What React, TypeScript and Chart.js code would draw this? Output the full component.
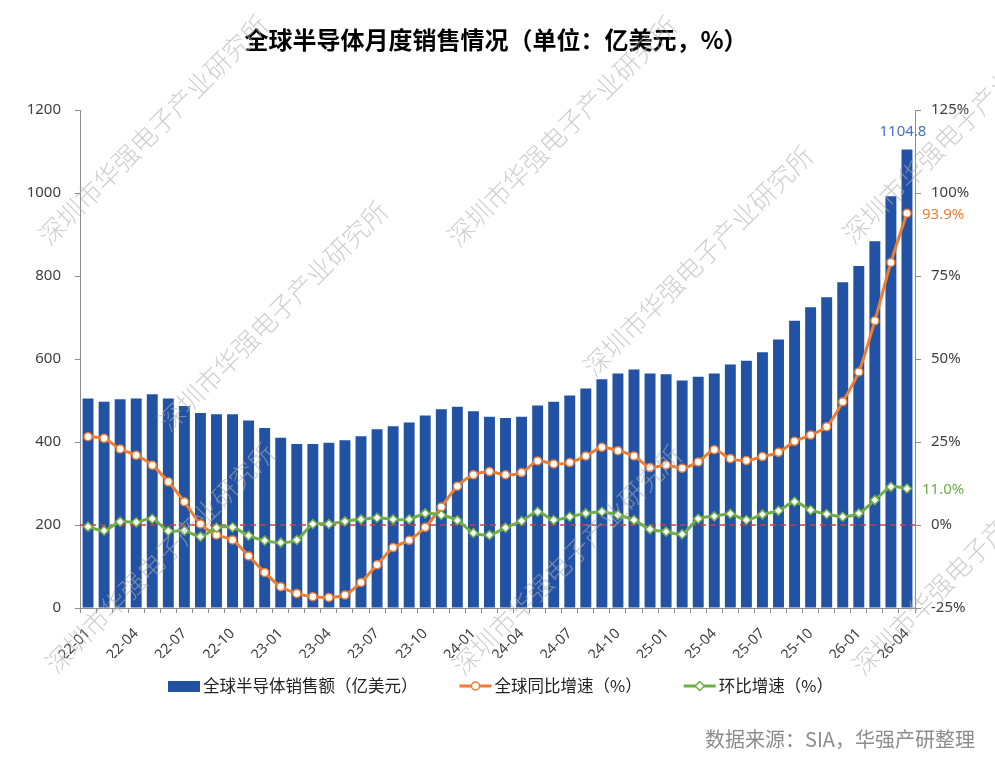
import React, { useEffect, useRef } from 'react';
import { Chart, registerables } from 'chart.js';

Chart.register(...registerables);

const categories = [
  '22-01', '22-02', '22-03', '22-04', '22-05', '22-06', '22-07', '22-08', '22-09', '22-10', '22-11', '22-12',
  '23-01', '23-02', '23-03', '23-04', '23-05', '23-06', '23-07', '23-08', '23-09', '23-10', '23-11', '23-12',
  '24-01', '24-02', '24-03', '24-04', '24-05', '24-06', '24-07', '24-08', '24-09', '24-10', '24-11', '24-12',
  '25-01', '25-02', '25-03', '25-04', '25-05', '25-06', '25-07', '25-08', '25-09', '25-10', '25-11', '25-12',
  '26-01', '26-02', '26-03', '26-04',
];

const salesValues = [
  505, 497, 503, 505, 515, 505, 487, 470, 467, 467, 452, 434,
  410, 395, 395, 398, 404, 414, 431, 438, 447, 464, 479, 485,
  474, 461, 458, 461, 488, 497, 512, 529, 551, 565, 575, 565,
  563, 548, 557, 565, 587, 596, 616, 647, 692, 725, 749, 785,
  824, 884, 992, 1104.8,
];

const yoyGrowth = [
  26.6, 26.1, 22.9, 21.0, 18.0, 13.0, 7.0, 0.3, -3.0, -4.5, -9.3, -14.3,
  -18.6, -20.6, -21.6, -21.8, -21.1, -17.3, -12.0, -6.8, -4.6, -0.7, 5.4, 11.7,
  15.1, 16.1, 15.1, 15.8, 19.3, 18.4, 18.8, 20.8, 23.4, 22.4, 20.8, 17.3,
  18.1, 17.1, 19.0, 22.7, 20.0, 19.4, 20.6, 21.9, 25.2, 27.1, 29.6, 37.1,
  46.1, 61.5, 79.1, 93.9,
];

const momGrowth = [
  -0.5, -1.7, 1.0, 0.8, 1.9, -1.8, -1.7, -3.5, -0.8, -0.7, -3.2, -4.7,
  -5.3, -4.5, 0.3, 0.3, 1.1, 1.7, 2.2, 1.7, 1.7, 3.5, 3.0, 1.4,
  -2.4, -3.0, -0.8, 1.2, 4.0, 1.5, 2.5, 3.5, 4.0, 3.0, 1.5, -1.3,
  -2.0, -2.8, 1.9, 2.6, 3.4, 1.5, 3.2, 4.3, 7.0, 4.5, 3.3, 2.5,
  3.5, 7.5, 11.5, 11.0,
];

const seriesNames = ['全球半导体销售额（亿美元）', '全球同比增速（%）', '环比增速（%）'];
const titleText = '全球半导体月度销售情况（单位：亿美元，%）';
const sourceText = '数据来源：SIA，华强产研整理';
const watermarkText = '深圳市华强电子产业研究所';

const BLUE = '#2152A4';
const ORANGE = '#ED7D31';
const GREEN = '#70AD47';
const AXIS = '#8c8c8c';
const TICK_TEXT = '#404040';
const CJK = '"Noto Sans CJK SC", "Noto Sans", sans-serif';
const LATIN = '"Noto Sans", "DejaVu Sans", sans-serif';

const WATERMARK_CENTERS: [number, number][] = [
  [153, 130], [562, 131], [957, 128],
  [273, 316], [698, 261],
  [160, 558], [567, 560], [967, 560],
];

const decorPlugin = {
  id: 'decor',
  afterDatasetDraw(chart: any, args: any) {
    if (args.index !== 0) return;
    const { ctx, chartArea } = chart;
    const y = chart.scales.y1.getPixelForValue(0);
    ctx.save();
    ctx.strokeStyle = '#C8403F';
    ctx.lineWidth = 1.5;
    ctx.setLineDash([6, 4]);
    ctx.beginPath();
    ctx.moveTo(chartArea.left, y);
    ctx.lineTo(chartArea.right, y);
    ctx.stroke();
    ctx.restore();
  },
  afterDraw(chart: any) {
    const { ctx } = chart;
    ctx.save();

    // title
    ctx.fillStyle = '#000';
    ctx.font = `bold 24px ${CJK}`;
    ctx.textAlign = 'center';
    ctx.textBaseline = 'middle';
    ctx.fillText(titleText, 496, 40);

    // value labels
    const barMeta = chart.getDatasetMeta(0);
    const lastBar = barMeta.data[barMeta.data.length - 1];
    ctx.font = `15px ${LATIN}`;
    ctx.fillStyle = '#4472C4';
    ctx.textAlign = 'center';
    ctx.fillText(String(salesValues[salesValues.length - 1]), lastBar.x - 4, lastBar.y - 18);

    const yoyMeta = chart.getDatasetMeta(1);
    const lastYoy = yoyMeta.data[yoyMeta.data.length - 1];
    ctx.textAlign = 'left';
    ctx.fillStyle = ORANGE;
    ctx.fillText(yoyGrowth[yoyGrowth.length - 1].toFixed(1) + '%', lastYoy.x + 15, lastYoy.y + 1);

    const momMeta = chart.getDatasetMeta(2);
    const lastMom = momMeta.data[momMeta.data.length - 1];
    ctx.fillStyle = GREEN;
    ctx.fillText(momGrowth[momGrowth.length - 1].toFixed(1) + '%', lastMom.x + 15, lastMom.y + 1);

    // legend
    const ly = 686;
    let lx = 168;
    ctx.font = `16.5px ${CJK}`;
    ctx.textBaseline = 'middle';
    ctx.textAlign = 'left';
    seriesNames.forEach((name, i) => {
      if (i === 0) {
        ctx.fillStyle = BLUE;
        ctx.fillRect(lx, ly - 5, 32, 11);
      } else {
        const color = i === 1 ? ORANGE : GREEN;
        ctx.strokeStyle = color;
        ctx.lineWidth = 3;
        ctx.beginPath();
        ctx.moveTo(lx, ly);
        ctx.lineTo(lx + 32, ly);
        ctx.stroke();
        const cx = lx + 16;
        ctx.fillStyle = '#fff';
        ctx.lineWidth = 1.5;
        ctx.beginPath();
        if (i === 1) {
          ctx.arc(cx, ly, 4, 0, Math.PI * 2);
        } else {
          ctx.moveTo(cx, ly - 4.5);
          ctx.lineTo(cx + 4.5, ly);
          ctx.lineTo(cx, ly + 4.5);
          ctx.lineTo(cx - 4.5, ly);
          ctx.closePath();
        }
        ctx.fill();
        ctx.stroke();
      }
      ctx.fillStyle = '#222';
      ctx.fillText(name, lx + 35, ly);
      lx += 35 + ctx.measureText(name).width + 42;
    });

    // source
    ctx.font = `20px ${CJK}`;
    ctx.fillStyle = '#8c8c8c';
    ctx.textAlign = 'right';
    ctx.fillText(sourceText, 975, 739);

    // watermark
    ctx.font = `300 26px ${CJK}`;
    ctx.fillStyle = 'rgba(175,175,175,0.6)';
    ctx.textAlign = 'center';
    WATERMARK_CENTERS.forEach(([cx, cy]) => {
      ctx.save();
      ctx.translate(cx, cy);
      ctx.rotate(-Math.PI / 4);
      ctx.fillText(watermarkText, 0, 0);
      ctx.restore();
    });

    ctx.restore();
  },
};

export default function App() {
  const ref = useRef<HTMLCanvasElement>(null);

  useEffect(() => {
    const canvas = ref.current;
    if (!canvas) return;
    const chart = new Chart(canvas, {
      data: {
        labels: categories,
        datasets: [
          {
            type: 'bar',
            label: seriesNames[0],
            data: salesValues,
            yAxisID: 'y',
            backgroundColor: BLUE,
            barPercentage: 0.68,
            categoryPercentage: 1,
            order: 3,
          },
          {
            type: 'line',
            label: seriesNames[1],
            data: yoyGrowth,
            yAxisID: 'y1',
            borderColor: ORANGE,
            borderWidth: 3,
            pointStyle: 'circle',
            pointRadius: 4,
            pointBackgroundColor: '#fff',
            pointBorderColor: ORANGE,
            pointBorderWidth: 1.5,
            tension: 0.25,
            order: 2,
          },
          {
            type: 'line',
            label: seriesNames[2],
            data: momGrowth,
            yAxisID: 'y1',
            borderColor: GREEN,
            borderWidth: 3,
            pointStyle: 'rectRot',
            pointRadius: 4.5,
            pointBackgroundColor: '#fff',
            pointBorderColor: GREEN,
            pointBorderWidth: 1.5,
            tension: 0.25,
            order: 1,
          },
        ],
      } as any,
      options: {
        responsive: true,
        maintainAspectRatio: false,
        animation: false,
        events: [],
        layout: { padding: { top: 110, bottom: 101, left: 0, right: 0 } },
        plugins: {
          legend: { display: false },
          title: { display: false },
          tooltip: { enabled: false },
        },
        scales: {
          x: {
            grid: { drawOnChartArea: false, tickLength: 5, color: AXIS, offset: true },
            border: { color: AXIS },
            ticks: {
              autoSkip: false,
              minRotation: 45,
              maxRotation: 45,
              padding: 12,
              color: TICK_TEXT,
              font: { family: LATIN, size: 14.5 },
              callback: (_v: any, i: number) => (i % 3 === 0 ? categories[i] : ''),
            },
            afterFit: (s: any) => {
              s.height = 50;
            },
          },
          y: {
            position: 'left',
            min: 0,
            max: 1200,
            grid: { drawOnChartArea: false, tickLength: 5, color: AXIS },
            border: { color: AXIS },
            ticks: {
              stepSize: 200,
              padding: 14,
              color: TICK_TEXT,
              font: { family: LATIN, size: 15 },
              callback: (v: any) => String(v),
            },
            afterFit: (s: any) => {
              s.width = 80;
            },
          },
          y1: {
            position: 'right',
            min: -25,
            max: 125,
            grid: { drawOnChartArea: false, tickLength: 6, color: AXIS },
            border: { color: AXIS },
            ticks: {
              stepSize: 25,
              padding: 10,
              color: TICK_TEXT,
              font: { family: LATIN, size: 15 },
              callback: (v: any) => v + '%',
            },
            afterFit: (s: any) => {
              s.width = 80;
            },
          },
        },
      } as any,
      plugins: [decorPlugin],
    });
    return () => chart.destroy();
  }, []);

  return (
    <div style={{ position: 'absolute', left: 0, top: 0, width: 995, height: 759, background: '#fff' }}>
      <canvas ref={ref} />
    </div>
  );
}
